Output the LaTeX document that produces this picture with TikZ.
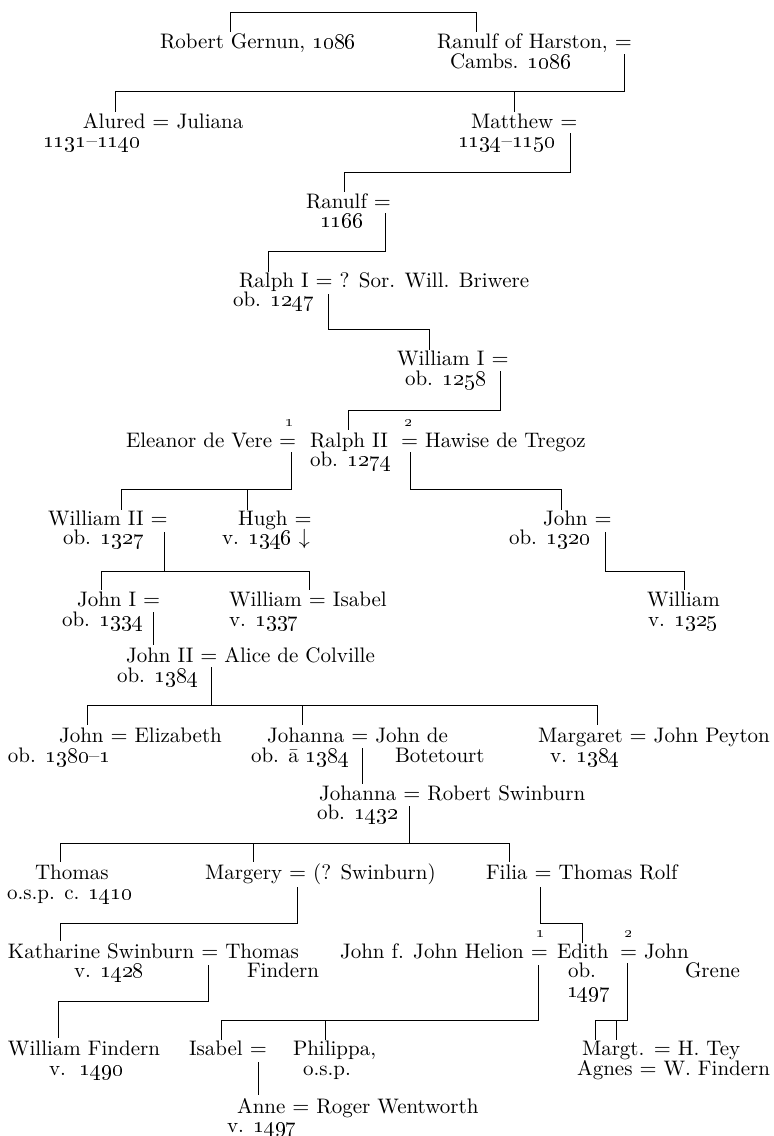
\documentclass[tikz,border=0pt]{standalone}
\usepackage{tikz}

\newcommand{\yr}[1]{\oldstylenums{#1}}

\begin{document}
\begin{tikzpicture}[x=0.5pt, y=-0.5pt]
  \tikzset{PersonStyle/.style = {anchor       = base west,
                                 inner sep    = 0pt,
                                 outer sep    = 0pt,
                                 font         = \fontsize{10.5}{12}\selectfont},
           IndexStyle/.style  = {anchor       = base,
                                 inner sep    = 0pt,
                                 font         = \fontsize{8}{9}\selectfont}}
  \useasboundingbox (0,0) rectangle (774,1136);
  \begin{scope}[line width=0.5pt, every node/.style={PersonStyle}]
	%%% GENERATION 1 %%%
	\node (robert)  at (160,48) {Robert Gernun, \yr{1086}};
	\node (ranulf)  at (437,48) {Ranulf of Harston, $=$};
	\node (ranulfd) at (450,68) {Cambs. \yr{1086}};
	\coordinate (famA)     at (230,12);
	\coordinate (robertUp) at (230,32);
	\coordinate (ranulfUp) at (476,32);
	\draw (robertUp) -- (famA) -| (ranulfUp);
	%
	\coordinate (ranulfEq)  at (624,54);
	\coordinate (famB)      at (624,91);
	\coordinate (aluredUp)  at (115,112);
	\coordinate (matthewUp) at (514,112);
	\draw (ranulfEq) -- (famB) -| (aluredUp);
	\draw (famB) -| (matthewUp);
	%%% GENERATION 2 %%%
	\node (alured)   at (83,128)  {Alured $=$ Juliana};
	\node (aluredd)  at (43,147)  {\yr{1131}--\yr{1140}};
	\node (matthew)  at (471,128) {Matthew $=$};
	\node (matthewd) at (458,147) {\yr{1134}--\yr{1150}};
	\coordinate (matthewEq) at (570,133);
	\coordinate (famC)      at (570,172);
	\coordinate (ranulf2Up) at (344,192);
	\draw (matthewEq) -- (famC) -| (ranulf2Up);
	%%% GENERATION 3 %%%
	\node (ranulf2)  at (306,208) {Ranulf $=$};
	\node (ranulf2d) at (320,227) {\yr{1166}};
	\coordinate (ranulf2Eq) at (385,213);
	\coordinate (famD)      at (385,251);
	\coordinate (ralph1Up)  at (268,272);
	\draw (ranulf2Eq) -- (famD) -| (ralph1Up);
	%%% GENERATION 4 %%%
	\node (ralph1)  at (239,287) {Ralph I $=$ ? Sor. Will. Briwere};
	\node (ralph1d) at (233,306) {ob. \yr{1247}};
	\coordinate (ralph1Eq)   at (328,294);
	\coordinate (famE)       at (328,329);
	\coordinate (william1Up) at (429,350);
	\draw (ralph1Eq) -- (famE) -| (william1Up);
	%%% GENERATION 5 %%%
	\node (william1)  at (397,365) {William I $=$};
	\node (william1d) at (405,385) {ob. \yr{1258}};
	\coordinate (william1Eq) at (500,371);
	\coordinate (famF)       at (500,410);
	\coordinate (ralph2Up)   at (348,430);
	\draw (william1Eq) -- (famF) -| (ralph2Up);
	%%% GENERATION 6 %%%
	\node (eleanor) at (126,447) {Eleanor de Vere $=$};
	\node (ralph2)  at (310,447) {Ralph II};
	\node (hawise)  at (401,447) {$=$ Hawise de Tregoz};
	\node[IndexStyle] (first)  at (290,426) {\yr{1}};
	\node[IndexStyle] (second) at (409,426) {\yr{2}};
	\node (ralph2d) at (310,466) {ob. \yr{1274}};
	\coordinate (eleanorEq)  at (291,452);
	\coordinate (famG)       at (291,489);
	\coordinate (william2Up) at (121,510);
	\coordinate (hughUp)     at (247,510);
	\draw (eleanorEq) -- (famG) -| (william2Up);
	\draw (famG) -| (hughUp);
	\coordinate (hawiseEq) at (410,452);
	\coordinate (famH)     at (410,489);
	\coordinate (johnUp)   at (561,510);
	\draw (hawiseEq) -- (famH) -| (johnUp);
	%%% GENERATION 7 %%%
	\node (william2)  at (48,525)  {William II $=$};
	\node (william2d) at (63,544)  {ob. \yr{1327}};
	\node (hugh)      at (238,525) {Hugh $=$};
	\node (hughd)     at (222,544) {v. \yr{1346} \smash{$\downarrow$}};
	\node (john)      at (543,525) {John $=$};
	\node (johnd)     at (509,544) {ob. \yr{1320}};
	\coordinate (william2Eq) at (164,532);
	\coordinate (famI)       at (164,571);
	\coordinate (john1Up)    at (101,590);
	\coordinate (williamUp)  at (309,590);
	\draw (william2Eq) -- (famI) -| (john1Up);
	\draw (famI) -| (williamUp);
	\coordinate (johnEq)     at (605,532);
	\coordinate (famJ)       at (605,571);
	\coordinate (williamRUp) at (684,590);
	\draw (johnEq) -- (famJ) -| (williamRUp);
	%%% GENERATION 8 %%%
	\node (john1)     at (77,606)  {John I $=$};
	\node (john1d)    at (62,626)  {ob. \yr{1334}};
	\node (william)   at (229,606) {William $=$ Isabel};
	\node (williamd)  at (229,626) {v. \yr{1337}};
	\node (williamR)  at (647,606) {William};
	\node (williamRd) at (648,626) {v. \yr{1325}};
	\coordinate (john1Eq) at (153,612);
	\coordinate (john2Up) at (153,645);
	\draw (john1Eq) -- (john2Up);
	%%% GENERATION 9 %%%
	\node (john2)  at (126,662) {John II $=$ Alice de Colville};
	\node (john2d) at (117,682) {ob. \yr{1384}};
	\coordinate (john2Eq)    at (211,667);
	\coordinate (famK)       at (211,705);
	\coordinate (johnEUp)    at (87,725);
	\coordinate (johannaUp)  at (302,725);
	\coordinate (margaretUp) at (597,725);
	\draw (john2Eq) -- (famK) -| (johnEUp);
	\draw (famK) -| (johannaUp);
	\draw (famK) -| (margaretUp);
	%%% GENERATION 10 %%%
	\node (johnE)     at (59,742)  {John $=$ Elizabeth};
	\node (johnEd)    at (8,762)   {ob. \yr{1380}--\yr{1}};
	\node (johanna)   at (267,742) {Johanna $=$ John de};
	\node (johannad)  at (251,762) {ob. \=a \yr{1384}};
	\node (botetourt) at (395,762) {Botetourt};
	\node (margaret)  at (538,742) {Margaret $=$ John Peyton};
	\node (margaretd) at (550,762) {v. \yr{1384}};
	\coordinate (johannaEq)  at (362,748);
	\coordinate (johanna2Up) at (362,784);
	\draw (johannaEq) -- (johanna2Up);
	%%% GENERATION 11 %%%
	\node (johanna2)  at (319,800) {Johanna $=$ Robert Swinburn};
	\node (johanna2d) at (317,819) {ob. \yr{1432}};
	\coordinate (johanna2Eq) at (409,806);
	\coordinate (famL)       at (409,843);
	\coordinate (thomasUp)   at (60,862);
	\coordinate (margeryUp)  at (253,862);
	\coordinate (filiaUp)    at (509,862);
	\draw (johanna2Eq) -- (famL) -| (thomasUp);
	\draw (famL) -| (margeryUp);
	\draw (famL) -| (filiaUp);
	%%% GENERATION 12 %%%
	\node (thomas)  at (35,879)  {Thomas};
	\node (thomasd) at (7,899)   {o.s.p. c. \yr{1410}};
	\node (margery) at (205,879) {Margery $=$ (? Swinburn)};
	\node (filia)   at (486,879) {Filia $=$ Thomas Rolf};
	\coordinate (margeryEq)   at (297,887);
	\coordinate (famM)        at (297,923);
	\coordinate (katharineUp) at (60,941);
	\draw (margeryEq) -- (famM) -| (katharineUp);
	\coordinate (filiaEq) at (540,887);
	\coordinate (famN)    at (540,923);
	\coordinate (edithUp) at (582,943);
	\draw (filiaEq) -- (famN) -| (edithUp);
	\node[IndexStyle] (third)  at (541,937) {\yr{1}};
	\node[IndexStyle] (fourth) at (629,937) {\yr{2}};
	%%% GENERATION 13 %%%
	\node (katharine)  at (8,958)   {Katharine Swinburn $=$ Thomas};
	\node (katharined) at (74,977)  {v. \yr{1428}};
	\node (findern)    at (247,977) {Findern};
	\node (helion)     at (340,958) {John f. John Helion $=$};
	\node (edith)      at (557,958) {Edith};
	\node (edithd)     at (568,977) {ob.};
	\node (edithdd)    at (567,997) {\yr{1497}};
	\node (greneA)     at (620,958) {$=$ John};
	\node (greneB)     at (685,977) {Grene};
	\coordinate (katharineEq) at (208,965);
	\coordinate (famO)        at (208,1001);
	\coordinate (williamFUp)  at (58,1038);
	\draw (katharineEq) -- (famO) -| (williamFUp);
	\coordinate (helionEq)   at (538,965);
	\coordinate (famP)       at (538,1020);
	\coordinate (isabelUp)   at (221,1040);
	\coordinate (philippaUp) at (325,1040);
	\draw (helionEq) -- (famP) -| (isabelUp);
	\draw (famP) -| (philippaUp);
	\coordinate (greneEq) at (627,963);
	\coordinate (famQ)    at (627,1020);
	\coordinate (margtUp) at (595,1040);
	\coordinate (agnesUp) at (616,1040);
	\draw (greneEq) -- (famQ) -| (margtUp);
	\draw (famQ) -| (agnesUp);
	%%% GENERATION 14 %%%
	\node (williamF)  at (8,1055)   {William Findern};
	\node (williamFd) at (49,1075)  {v.\ \ \yr{1490}};
	\node (isabel)    at (189,1055) {Isabel $=$};
	\node (philippa)  at (293,1055) {Philippa,};
	\node (philippad) at (303,1075) {o.s.p.};
	\node (margt)     at (582,1055) {Margt. $=$ H. Tey};
	\node (agnes)     at (577,1075) {Agnes $=$ W. Findern};
	\coordinate (isabelEq) at (258,1062);
	\coordinate (anneUp)   at (258,1095);
	\draw (isabelEq) -- (anneUp);
	%%% GENERATION 15 %%%
	\node (anne)  at (237,1113) {Anne $=$ Roger Wentworth};
	\node (anned) at (227,1132) {v. \yr{1497}};
  \end{scope}
\end{tikzpicture}
\end{document}
